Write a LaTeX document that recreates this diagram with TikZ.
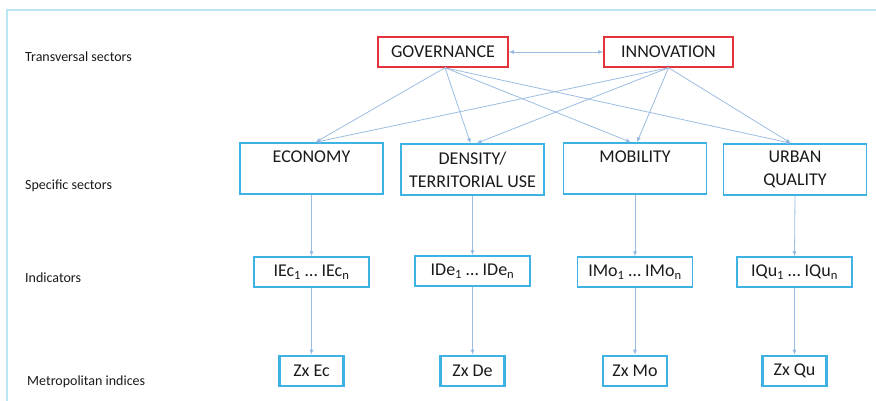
\documentclass[tikz,border=0pt]{standalone}
\usepackage{fontspec}
\setmainfont{Carlito}
\usetikzlibrary{arrows.meta}
\definecolor{frameblue}{HTML}{BDE6F5}
\definecolor{boxred}{HTML}{E3343E}
\definecolor{boxblue}{HTML}{3DB2E3}
\definecolor{connblue}{HTML}{9CBCE2}
\definecolor{tipblue}{HTML}{5C8ED2}
\definecolor{txt}{HTML}{1A1A1A}
\tikzset{
  lbl/.style={anchor=west, text=txt, font=\fontsize{14}{16}\selectfont, inner sep=0pt},
  redbox/.style={draw=boxred, line width=1.5pt, minimum width=130pt, minimum height=30pt, inner sep=0pt, text=txt, font=\fontsize{18}{20}\selectfont},
  secbox/.style={draw=boxblue, line width=1.5pt, minimum width=143pt, minimum height=51pt, inner sep=0pt, align=center, text=txt, font=\fontsize{18}{23}\selectfont},
  indbox/.style={draw=boxblue, line width=1.5pt, minimum width=115pt, minimum height=30pt, inner sep=0pt, text=txt, font=\fontsize{18}{20}\selectfont},
  zxbox/.style={draw=boxblue, line width=2.6pt, minimum width=64pt, minimum height=30pt, inner sep=0pt, text=txt, font=\fontsize{18}{20}\selectfont},
  conn/.style={draw=connblue, line width=0.8pt, -{Latex[length=5pt,width=4pt,fill=tipblue]}},
  dconn/.style={draw=connblue, line width=0.8pt, {Latex[length=5pt,width=4pt,fill=tipblue]}-{Latex[length=5pt,width=4pt,fill=tipblue]}}
}
\begin{document}
\begin{tikzpicture}[x=1pt,y=-1pt]
\useasboundingbox (0,0) rectangle (876,401);
% frame
\draw[frameblue, line width=1.5pt] (876,10) -- (7,10) -- (7,401);
% row labels
\node[lbl] (l1) at (25,57) {Transversal sectors};
\node[lbl] (l2) at (25,186) {Specific sectors};
\node[lbl] (l3) at (25,278) {Indicators};
\node[lbl] (l4) at (27,382) {Metropolitan indices};
% transversal
\node[redbox] (gov) at (443,52) {GOVERNANCE};
\node[redbox, minimum width=129pt] (inn) at (668.5,52) {INNOVATION};
% specific
\node[secbox] (eco) at (311.5,168.5) {ECONOMY\\\mbox{}};
\node[secbox] (den) at (472.5,169.5) {DENSITY/\\TERRITORIAL USE};
\node[secbox] (mob) at (635,168.5) {MOBILITY\\\mbox{}};
\node[secbox] (urb) at (795,169.5) {URBAN\\QUALITY};
% indicators
\node[indbox] (iec) at (311.5,272) {IEc\textsubscript{1} … IEc\textsubscript{n}};
\node[indbox] (ide) at (472.5,271) {IDe\textsubscript{1} … IDe\textsubscript{n}};
\node[indbox] (imo) at (635,272) {IMo\textsubscript{1} … IMo\textsubscript{n}};
\node[indbox] (iqu) at (794.5,272) {IQu\textsubscript{1} … IQu\textsubscript{n}};
% indices
\node[zxbox] (zec) at (311.5,371) {Zx Ec};
\node[zxbox] (zde) at (472.5,371) {Zx De};
\node[zxbox] (zmo) at (635,371) {Zx Mo};
\node[zxbox] (zqu) at (794.5,371) {Zx Qu};
% connectors
\draw[dconn] (gov.east) -- (inn.west);
\coordinate (gs) at ([xshift=2pt]gov.south);
\coordinate (is) at (inn.south);
\draw[conn] (gs) -- ([xshift=4pt]eco.north);
\draw[conn] (gs) -- ([xshift=-2pt]den.north);
\draw[conn] (gs) -- ([xshift=-4pt]mob.north);
\draw[conn] (gs) -- ([xshift=-4pt]urb.north);
\draw[conn] (is) -- ([xshift=4pt]eco.north);
\draw[conn] (is) -- ([xshift=4pt]den.north);
\draw[conn] (is) -- ([xshift=2pt]mob.north);
\draw[conn] (is) -- ([xshift=-4pt]urb.north);
\foreach \a/\b in {eco/iec,den/ide,mob/imo,urb/iqu,iec/zec,ide/zde,imo/zmo,iqu/zqu}
  \draw[conn] (\a.south) -- (\b.north);
\end{tikzpicture}
\end{document}
